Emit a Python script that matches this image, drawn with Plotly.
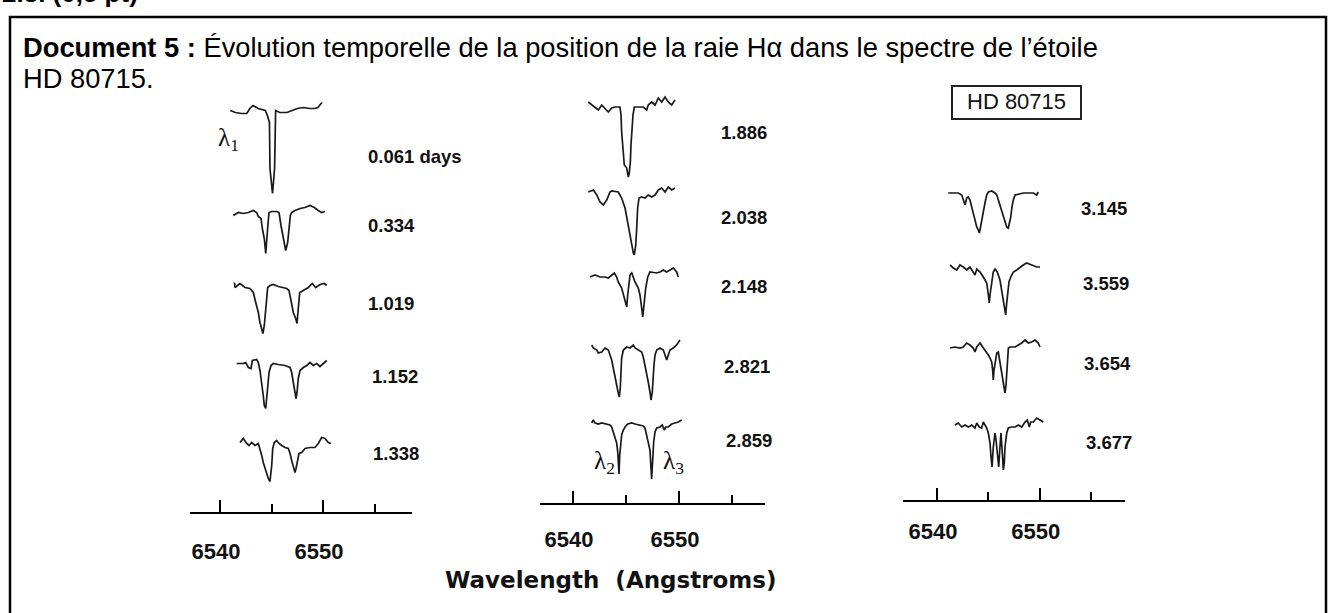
import plotly.graph_objects as go

W, H = 1328, 613

# ---------------- data ----------------
epochs_p1 = ["0.061 days", "0.334", "1.019", "1.152", "1.338"]
epochs_p2 = ["1.886", "2.038", "2.148", "2.821", "2.859"]
epochs_p3 = ["3.145", "3.559", "3.654", "3.677"]

tick_major = [6540, 6550]
tick_minor = [6545, 6555]
tick_text = ["6540", "6550"]

# wavelength (Angstrom) / relative flux (continuum = 1)
wl_0061 = [6541.0, 6541.5, 6542.1, 6542.6, 6542.9, 6543.2, 6543.7, 6544.4, 6544.6, 6544.8, 6544.85, 6545.1,
           6545.3, 6545.35, 6545.4, 6545.8, 6546.5, 6547.0, 6547.5, 6548.1, 6548.7, 6549.2, 6549.5, 6549.9]
fx_0061 = [1.00, 0.98, 0.97, 0.97, 1.02, 1.05, 1.02, 1.00, 0.95, 0.88, 0.42, 0.17,
           0.42, 0.88, 1.00, 0.98, 0.98, 1.00, 1.02, 1.03, 1.02, 1.02, 1.03, 1.08]

wl_0334 = [6541.29, 6541.78, 6542.26, 6542.75, 6543.23, 6543.56, 6543.72, 6543.98, 6544.11, 6544.30, 6544.44,
           6544.53, 6544.63, 6544.76, 6545.02, 6545.50, 6545.73, 6545.92, 6546.15, 6546.38, 6546.57, 6546.70,
           6546.83, 6546.96, 6547.28, 6547.77, 6548.25, 6548.74, 6549.16, 6549.54, 6549.87, 6550.19]
fx_0334 = [0.97, 1.00, 0.99, 1.00, 1.02, 1.00, 0.96, 0.94, 0.84, 0.74, 0.59,
           0.77, 0.85, 1.00, 1.01, 1.01, 1.00, 0.87, 0.74, 0.62, 0.70, 0.84,
           0.97, 1.00, 1.02, 1.04, 1.05, 1.07, 1.05, 1.02, 1.00, 1.01]

wl_1019 = [6541.40, 6541.46, 6541.94, 6542.43, 6542.91, 6543.23, 6543.47, 6543.72, 6543.88, 6544.05, 6544.17,
           6544.30, 6544.44, 6544.53, 6544.63, 6544.85, 6545.17, 6545.66, 6546.15, 6546.48, 6546.70, 6546.89,
           6547.12, 6547.35, 6547.48, 6547.54, 6547.64, 6547.74, 6548.09, 6548.57, 6548.96, 6549.29, 6549.71,
           6550.13, 6550.36]
fx_1019 = [1.03, 0.98, 1.02, 0.98, 0.97, 0.93, 0.83, 0.73, 0.63, 0.57, 0.52,
           0.60, 0.77, 0.93, 0.98, 1.00, 1.01, 0.99, 0.98, 0.97, 0.95, 0.85,
           0.73, 0.67, 0.62, 0.70, 0.83, 0.93, 0.95, 0.98, 1.02, 0.98, 1.01,
           1.02, 1.00]

wl_1152 = [6541.62, 6542.26, 6542.50, 6542.75, 6543.01, 6543.14, 6543.56, 6543.72, 6543.88, 6544.05, 6544.20,
           6544.30, 6544.44, 6544.53, 6544.63, 6544.76, 6544.95, 6545.17, 6545.66, 6546.31, 6546.80, 6546.96,
           6547.12, 6547.28, 6547.38, 6547.48, 6547.60, 6547.77, 6548.09, 6548.42, 6548.74, 6549.06, 6549.39,
           6549.71, 6550.03, 6550.36]
fx_1152 = [1.01, 1.01, 1.02, 0.97, 0.96, 1.04, 1.05, 1.02, 0.94, 0.82, 0.69,
           0.59, 0.56, 0.66, 0.79, 0.92, 0.99, 1.01, 1.00, 0.99, 0.97, 0.92,
           0.82, 0.72, 0.66, 0.72, 0.86, 0.94, 0.97, 0.99, 1.02, 0.99, 1.01,
           0.98, 1.01, 1.04]

wl_1338 = [6541.94, 6542.26, 6542.59, 6542.82, 6543.08, 6543.40, 6543.72, 6543.88, 6544.05, 6544.20, 6544.37,
           6544.53, 6544.69, 6544.85, 6545.02, 6545.12, 6545.27, 6545.50, 6545.73, 6545.99, 6546.31, 6546.63,
           6546.80, 6546.96, 6547.12, 6547.28, 6547.38, 6547.54, 6547.67, 6547.93, 6548.25, 6548.74, 6549.22,
           6549.54, 6549.87, 6550.19, 6550.51, 6550.78]
fx_1338 = [1.01, 1.05, 1.00, 0.98, 1.01, 0.98, 1.00, 0.95, 0.88, 0.81, 0.75,
           0.70, 0.65, 0.62, 0.78, 0.95, 1.01, 1.03, 1.00, 0.98, 0.96, 0.95,
           0.90, 0.83, 0.76, 0.71, 0.75, 0.83, 0.90, 0.91, 0.95, 0.96, 0.96,
           1.00, 1.06, 1.05, 1.01, 1.00]

wl_1886 = [6541.44, 6541.76, 6542.08, 6542.39, 6542.71, 6543.02, 6543.33, 6543.65, 6543.96, 6544.43, 6544.53,
           6544.59, 6544.72, 6544.84, 6545.07, 6545.22, 6545.31, 6545.41, 6545.47, 6545.54, 6545.66, 6545.78,
           6546.63, 6546.95, 6547.10, 6547.42, 6547.74, 6548.05, 6548.37, 6548.68, 6548.99, 6549.31, 6549.62]
fx_1886 = [1.04, 1.01, 0.99, 0.96, 1.01, 0.98, 0.94, 0.98, 0.99, 0.99, 0.91,
           0.74, 0.54, 0.41, 0.38, 0.29, 0.33, 0.44, 0.61, 0.78, 0.91, 0.99,
           0.99, 0.96, 1.01, 1.04, 1.01, 1.08, 1.04, 1.09, 1.04, 1.01, 1.06]

wl_2038 = [6541.44, 6541.92, 6542.24, 6542.55, 6542.86, 6543.18, 6543.49, 6543.65, 6544.27, 6544.59, 6544.91,
           6545.07, 6545.22, 6545.38, 6545.54, 6545.69, 6545.78, 6545.92, 6546.01, 6546.10, 6546.23, 6546.48,
           6546.79, 6547.10, 6547.42, 6547.74, 6548.05, 6548.37, 6548.68, 6548.99, 6549.31, 6549.62]
fx_2038 = [1.00, 1.02, 0.97, 0.90, 0.87, 0.92, 1.00, 1.01, 1.00, 0.94, 0.84,
           0.74, 0.64, 0.57, 0.45, 0.39, 0.37, 0.47, 0.64, 0.84, 0.94, 0.95,
           0.94, 0.97, 0.95, 0.97, 1.02, 1.04, 1.00, 1.05, 1.02, 1.04]

wl_2148 = [6541.60, 6542.08, 6542.55, 6543.02, 6543.33, 6543.65, 6543.90, 6544.12, 6544.27, 6544.59, 6544.75,
           6544.91, 6545.07, 6545.16, 6545.28, 6545.38, 6545.54, 6545.69, 6545.85, 6546.16, 6546.32, 6546.48,
           6546.58, 6546.63, 6546.73, 6546.86, 6547.05, 6547.26, 6547.90, 6548.21, 6548.52, 6548.84, 6549.15,
           6549.46, 6549.78, 6549.93]
fx_2148 = [0.99, 1.01, 0.99, 0.99, 0.98, 1.01, 1.03, 0.99, 0.94, 0.88, 0.81,
           0.74, 0.69, 0.81, 0.94, 1.01, 1.03, 0.99, 0.94, 0.88, 0.81, 0.68,
           0.59, 0.64, 0.74, 0.88, 0.99, 1.04, 1.03, 1.04, 1.06, 1.04, 1.06,
           1.08, 1.04, 0.99]

wl_2821 = [6541.76, 6541.92, 6542.24, 6542.39, 6542.71, 6543.02, 6543.33, 6543.49, 6543.65, 6543.80, 6543.96,
           6544.12, 6544.27, 6544.37, 6544.46, 6544.53, 6544.59, 6544.75, 6545.07, 6545.38, 6545.69, 6545.85,
           6546.16, 6546.48, 6546.63, 6546.79, 6546.95, 6547.10, 6547.26, 6547.36, 6547.48, 6547.55, 6547.64,
           6547.74, 6547.90, 6548.21, 6548.52, 6548.68, 6548.84, 6548.99, 6549.15, 6549.46, 6549.78, 6550.09]
fx_2821 = [1.04, 1.01, 0.99, 0.96, 0.97, 1.01, 0.99, 0.94, 0.89, 0.81, 0.74,
           0.64, 0.56, 0.52, 0.61, 0.74, 0.91, 0.99, 1.02, 1.01, 1.04, 1.01,
           0.99, 0.97, 0.92, 0.84, 0.77, 0.67, 0.57, 0.49, 0.57, 0.74, 0.84,
           0.94, 0.99, 1.01, 0.99, 0.94, 0.89, 0.94, 0.99, 1.01, 1.04, 1.09]

wl_2859 = [6541.76, 6541.92, 6542.08, 6542.39, 6542.71, 6543.18, 6543.49, 6543.65, 6543.80, 6543.96, 6544.12,
           6544.22, 6544.34, 6544.41, 6544.46, 6544.59, 6544.75, 6544.91, 6545.16, 6545.54, 6545.85, 6546.32,
           6546.63, 6546.79, 6546.95, 6547.10, 6547.26, 6547.42, 6547.52, 6547.61, 6547.74, 6547.90, 6548.21,
           6548.42, 6548.61, 6548.75, 6548.99, 6549.31, 6549.62, 6549.93, 6550.25]
fx_2859 = [1.01, 1.04, 1.01, 1.00, 1.01, 1.00, 0.99, 0.97, 0.92, 0.86, 0.81,
           0.72, 0.50, 0.69, 0.77, 0.89, 0.94, 0.97, 1.00, 1.01, 1.00, 0.99,
           0.98, 0.96, 0.89, 0.82, 0.74, 0.45, 0.69, 0.82, 0.92, 0.96, 0.97,
           0.99, 0.94, 0.97, 0.97, 1.00, 1.01, 1.02, 1.04]

wl_3145 = [6541.10, 6541.59, 6542.07, 6542.41, 6542.56, 6542.73, 6542.89, 6543.05, 6543.21, 6543.38, 6543.53,
           6543.70, 6543.87, 6544.02, 6544.12, 6544.22, 6544.35, 6544.51, 6544.67, 6544.84, 6545.00, 6545.33,
           6545.65, 6545.82, 6545.97, 6546.13, 6546.30, 6546.46, 6546.62, 6546.79, 6546.94, 6547.04, 6547.18,
           6547.30, 6547.43, 6547.60, 6547.92, 6548.40, 6548.89, 6549.38, 6549.71, 6549.86]
fx_3145 = [1.00, 1.00, 1.00, 0.98, 0.93, 0.88, 0.95, 0.96, 0.93, 0.86, 0.80,
           0.73, 0.66, 0.63, 0.60, 0.65, 0.73, 0.81, 0.90, 0.98, 1.01, 1.02,
           1.00, 0.98, 0.93, 0.88, 0.83, 0.76, 0.71, 0.66, 0.65, 0.70, 0.76,
           0.86, 0.93, 0.98, 0.99, 1.00, 1.00, 1.00, 0.98, 1.01]

wl_3559 = [6541.27, 6541.59, 6541.92, 6542.24, 6542.56, 6542.89, 6543.21, 6543.53, 6543.70, 6543.87, 6544.19,
           6544.51, 6544.84, 6545.00, 6545.09, 6545.16, 6545.33, 6545.48, 6545.65, 6545.87, 6546.13, 6546.30,
           6546.46, 6546.62, 6546.69, 6546.79, 6546.89, 6547.01, 6547.18, 6547.43, 6547.76, 6548.08, 6548.40,
           6548.73, 6549.22, 6549.71, 6550.03]
fx_3559 = [1.03, 1.00, 0.98, 1.03, 1.01, 0.98, 1.01, 0.95, 0.93, 0.99, 0.96,
           0.91, 0.85, 0.73, 0.65, 0.73, 0.88, 0.96, 0.99, 0.96, 0.88, 0.78,
           0.70, 0.61, 0.53, 0.65, 0.78, 0.86, 0.91, 0.96, 0.98, 1.01, 1.03,
           1.05, 1.03, 1.01, 1.01]

wl_3654 = [6541.27, 6541.75, 6542.24, 6542.56, 6542.89, 6543.21, 6543.53, 6543.70, 6543.87, 6544.19, 6544.45,
           6544.67, 6544.84, 6545.00, 6545.16, 6545.33, 6545.42, 6545.48, 6545.55, 6545.68, 6545.82, 6545.97,
           6546.13, 6546.30, 6546.46, 6546.62, 6546.72, 6546.79, 6546.89, 6546.95, 6547.11, 6547.60, 6547.92,
           6548.25, 6548.57, 6548.90, 6549.22, 6549.54, 6549.86, 6550.03]
fx_3654 = [0.99, 1.00, 0.99, 1.00, 1.04, 1.02, 0.99, 0.95, 1.00, 1.04, 1.00,
           0.97, 0.95, 0.92, 0.89, 0.85, 0.77, 0.67, 0.77, 0.87, 0.94, 0.95,
           0.85, 0.74, 0.62, 0.54, 0.62, 0.74, 0.87, 0.99, 1.00, 1.00, 1.02,
           1.04, 1.07, 1.04, 1.05, 1.07, 1.04, 1.00]

wl_3677 = [6541.75, 6542.07, 6542.41, 6542.73, 6543.05, 6543.38, 6543.70, 6543.87, 6544.12, 6544.35, 6544.51,
           6544.67, 6544.84, 6545.00, 6545.16, 6545.26, 6545.36, 6545.48, 6545.65, 6545.75, 6545.87, 6546.01,
           6546.13, 6546.23, 6546.36, 6546.46, 6546.55, 6546.62, 6546.79, 6546.94, 6547.27, 6547.60, 6547.92,
           6548.25, 6548.57, 6548.79, 6548.99, 6549.12, 6549.38, 6549.71, 6550.03, 6550.35]
fx_3677 = [1.01, 1.03, 0.99, 1.01, 0.99, 1.01, 0.98, 1.03, 0.99, 0.98, 1.04,
           1.01, 0.98, 0.93, 0.83, 0.69, 0.59, 0.79, 0.93, 0.86, 0.69, 0.59,
           0.79, 0.93, 0.73, 0.56, 0.63, 0.79, 0.93, 0.98, 0.99, 0.99, 1.01,
           0.99, 1.04, 1.06, 0.99, 1.04, 1.04, 1.08, 1.06, 1.04]

# vertical stacking offsets (flux units) of each spectrum within its panel
offsets_p1 = [3.01, 1.99, 1.26, 0.47, -0.32]
offsets_p2 = [2.97, 2.11, 1.27, 0.54, -0.21]
offsets_p3 = [2.07, 1.32, 0.53, -0.26]

spectra = {
    "0.061 days": (wl_0061, fx_0061), "0.334": (wl_0334, fx_0334), "1.019": (wl_1019, fx_1019),
    "1.152": (wl_1152, fx_1152), "1.338": (wl_1338, fx_1338),
    "1.886": (wl_1886, fx_1886), "2.038": (wl_2038, fx_2038), "2.148": (wl_2148, fx_2148),
    "2.821": (wl_2821, fx_2821), "2.859": (wl_2859, fx_2859),
    "3.145": (wl_3145, fx_3145), "3.559": (wl_3559, fx_3559), "3.654": (wl_3654, fx_3654),
    "3.677": (wl_3677, fx_3677),
}

# ---------------- layout geometry (pixels of the page) ----------------
panels = [
    dict(epochs=epochs_p1, offsets=offsets_p1, x0=190, x1=412, px6540=220, ppa=10.3, axis_y=511.5,
         standoff=19, label_px=[(366, 157), (366, 225), (366, 303), (370, 376), (371, 453)]),
    dict(epochs=epochs_p2, offsets=offsets_p2, x0=540, x1=765, px6540=573, ppa=10.6, axis_y=503,
         standoff=16, label_px=[(719, 133), (719, 218), (719, 287), (722, 366), (724, 440)]),
    dict(epochs=epochs_p3, offsets=offsets_p3, x0=903, x1=1125, px6540=937, ppa=10.27, axis_y=500,
         standoff=11, label_px=[(1079, 208), (1081, 283), (1082, 363), (1084, 442)]),
]
PX_PER_UNIT = 100.0

LINE = "#1a1a1a"
fig = go.Figure()
annotations = []
shapes = []

for i, p in enumerate(panels):
    k = "" if i == 0 else str(i + 1)
    xr = [6540 + (p["x0"] - p["px6540"]) / p["ppa"], 6540 + (p["x1"] - p["px6540"]) / p["ppa"]]
    ybot = 1 - p["axis_y"] / H
    ytop = 1 - (p["axis_y"] - 5 * PX_PER_UNIT) / H
    for lab, off in zip(p["epochs"], p["offsets"]):
        wl, fx = spectra[lab]
        fig.add_trace(go.Scatter(
            x=wl, y=[f + off for f in fx], mode="lines",
            line=dict(color=LINE, width=1.7),
            xaxis="x" + k, yaxis="y" + k, showlegend=False, hoverinfo="skip"))
    fig.update_layout(**{
        "xaxis" + k: dict(
            domain=[p["x0"] / W, p["x1"] / W], range=xr, anchor="y" + k,
            showgrid=False, zeroline=False, showline=True, linecolor="black", linewidth=2,
            ticks="inside", ticklen=12, tickwidth=2, tickcolor="black",
            tickmode="array", tickvals=tick_major, ticktext=["<b>%s</b>" % t for t in tick_text],
            minor=dict(tickmode="array", tickvals=tick_minor, ticks="inside", ticklen=8,
                       tickwidth=2, tickcolor="black", showgrid=False),
            tickfont=dict(family="Liberation Sans", size=22, color="#111"),
            ticklabelstandoff=p["standoff"], ticklabelshift=-4, fixedrange=True),
        "yaxis" + k: dict(
            domain=[ybot, min(ytop, 1.0)], range=[0, 5], visible=False, anchor="x" + k,
            fixedrange=True),
    })
    for lab, (lx, ly) in zip(p["epochs"], p["label_px"]):
        annotations.append(dict(
            text="<b>%s</b>" % lab, xref="paper", yref="paper",
            x=lx / W, y=1 - ly / H, xanchor="left", yanchor="middle", showarrow=False,
            font=dict(family="Liberation Sans", size=18.5, color="#111")))

# lambda markers
for txt, (lx, ly) in [("λ<sub>1</sub>", (228, 140)), ("λ<sub>2</sub>", (604, 462)), ("λ<sub>3</sub>", (673, 462))]:
    annotations.append(dict(text=txt, xref="paper", yref="paper", x=lx / W, y=1 - ly / H,
                            xanchor="center", yanchor="middle", showarrow=False,
                            font=dict(family="Liberation Serif", size=25, color="#111")))

# axis title
annotations.append(dict(text="<b>Wavelength  (Angstroms)</b>", xref="paper", yref="paper",
                        x=611 / W, y=1 - 580 / H, xanchor="center", yanchor="middle", showarrow=False,
                        font=dict(family="DejaVu Sans", size=23, color="#111")))

# star name box
shapes.append(dict(type="rect", xref="paper", yref="paper", x0=952 / W, x1=1081 / W,
                   y0=1 - 119 / H, y1=1 - 86 / H, line=dict(color="#222", width=2)))
annotations.append(dict(text="HD 80715", xref="paper", yref="paper", x=1016 / W, y=1 - 102 / H,
                        xanchor="center", yanchor="middle", showarrow=False,
                        font=dict(family="Liberation Sans", size=22, color="#111")))

# document frame and title
shapes.append(dict(type="rect", xref="paper", yref="paper", x0=10 / W, x1=1326 / W,
                   y0=-0.05, y1=1 - 17 / H, line=dict(color="black", width=2.5)))
annotations.append(dict(text="<b>2.3. (0,5 pt)</b>", xref="paper", yref="paper", x=0, y=1 + 7 / H,
                        xanchor="left", yanchor="middle", showarrow=False,
                        font=dict(family="Liberation Sans", size=26, color="black")))
annotations.append(dict(
    text="<b>Document 5 :</b> Évolution temporelle de la position de la raie Hα dans le spectre de l’étoile",
    xref="paper", yref="paper", x=21 / W, y=1 - 48 / H, xanchor="left", yanchor="middle", showarrow=False,
    font=dict(family="Liberation Sans", size=27.3, color="black")))
annotations.append(dict(text="HD 80715.", xref="paper", yref="paper", x=21 / W, y=1 - 78 / H,
                        xanchor="left", yanchor="middle", showarrow=False,
                        font=dict(family="Liberation Sans", size=27.3, color="black")))

fig.update_layout(width=W, height=H, autosize=False, margin=dict(l=0, r=0, t=0, b=0),
                  paper_bgcolor="white", plot_bgcolor="rgba(0,0,0,0)",
                  annotations=annotations, shapes=shapes, showlegend=False)

fig.write_html("out.html", config={"displayModeBar": False},
               post_script="document.body.style.margin='0';document.body.style.overflow='hidden';")
